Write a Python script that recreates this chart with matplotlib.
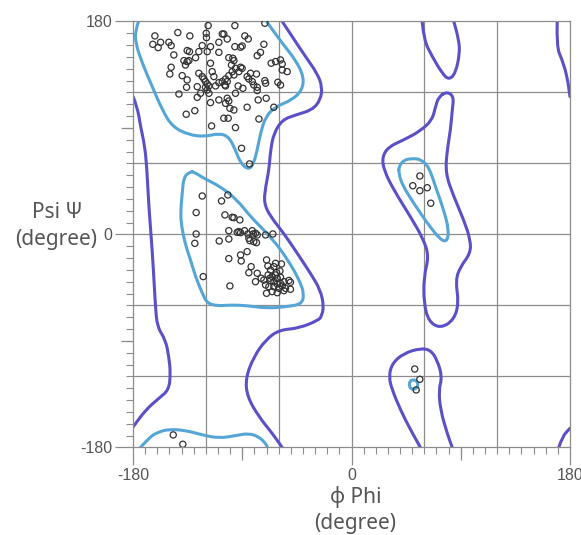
import numpy as np
import matplotlib
matplotlib.use('Agg')
import matplotlib.pyplot as plt
from matplotlib.path import Path
from matplotlib.patches import PathPatch

# ---- residue dihedral angles (degrees) ----
beta_phi = [-118.1, -96.1, -71.4, -143.1, -133.2, -119.7, -106.5, -105.2, -87.9, -85.1,
            -162.0, -157.3, -163.7, -159.3, -150.5, -148.6, -119.5, -123.0, -116.2, -109.3,
            -102.4, -90.1, -91.4, -96.1, -72.2, -146.4, -135.4, -133.5, -125.8, -118.9,
            -109.3, -75.0, -77.7, -138.1, -135.4, -136.8, -134.0, -128.5, -116.2, -101.1,
            -97.8, -96.9, -98.9, -91.4, -66.2, -62.6, -58.5, -57.1, -53.0, -57.1,
            -148.6, -149.7, -139.5, -135.4, -125.8, -123.0, -121.6, -120.3, -118.9, -113.4,
            -114.8, -103.8, -102.4, -106.5, -104.3, -109.3, -98.3, -96.9, -95.6, -92.8,
            -90.1, -101.1, -86.0, -83.2, -78.3, -84.6, -81.8, -80.5, -77.7, -71.4,
            -70.8, -60.7, -58.5, -135.9, -127.1, -117.5, -118.9, -120.3, -112.0, -103.8,
            -93.4, -89.5, -142.2, -127.1, -124.4, -117.5, -77.7, -76.9, -70.3, -116.2,
            -109.3, -102.4, -101.1, -103.8, -95.6, -86.0, -100.2, -96.9, -64.0, -136.2,
            -129.1, -105.2, -101.6, -76.3, -115.3, -95.6, -90.6, -84.0]
beta_psi = [176.5, 176.5, 178.5, 170.6, 167.8, 170.0, 169.4, 169.4, 167.8, 165.2,
            167.8, 162.4, 160.7, 157.9, 162.4, 159.6, 166.3, 159.6, 158.7, 162.4,
            165.2, 159.3, 158.2, 158.7, 160.7, 151.7, 155.4, 154.5, 154.5, 154.5,
            153.9, 153.9, 151.1, 146.9, 146.1, 143.2, 146.9, 149.4, 144.7, 149.4,
            148.9, 146.9, 143.2, 141.3, 144.7, 146.1, 147.5, 144.1, 137.6, 139.0,
            141.3, 135.6, 134.2, 130.6, 136.2, 133.4, 131.4, 129.2, 127.2, 133.4,
            137.6, 131.4, 129.2, 129.2, 126.3, 128.3, 137.6, 134.8, 140.4, 137.6,
            140.4, 134.2, 133.4, 136.2, 135.6, 131.4, 129.2, 126.3, 124.4, 130.0,
            127.8, 128.6, 126.3, 124.4, 124.9, 125.5, 122.1, 124.4, 125.5, 125.5,
            125.5, 123.5, 118.7, 115.9, 119.3, 119.3, 121.6, 113.7, 115.1, 111.4,
            113.7, 115.1, 112.8, 110.8, 119.3, 107.5, 106.6, 105.2, 107.5, 101.6,
            104.6, 98.2, 98.2, 97.6, 91.7, 90.3, 72.8, 59.6]

alpha_phi = [-123.0, -107.1, -101.9, -128.0, -104.3, -98.3, -96.9, -92.0, -128.0, -129.1,
             -101.1, -101.1, -109.0, -94.2, -92.8, -91.4, -88.1, -85.4, -81.8, -81.0,
             -79.1, -77.7, -84.6, -83.8, -80.5, -78.3, -70.8, -64.8, -86.0, -91.4,
             -90.9, -101.1, -122.2, -100.2, -82.7, -84.6, -77.7, -74.4, -79.1, -70.0,
             -68.9, -64.0, -62.6, -57.7, -66.7, -59.0, -68.7, -65.4, -62.6, -61.2,
             -58.5, -66.7, -64.0, -61.2, -58.5, -55.7, -51.6, -50.3, -70.8, -68.1,
             -64.0, -59.9, -57.1, -54.4, -50.3, -70.0, -65.4, -61.2, -55.7, -61.8,
             -67.3, -72.2]
alpha_psi = [32.5, 28.3, 33.4, 18.5, 16.5, 14.5, 14.2, 12.3, 0.4, -7.5,
             3.2, -3.8, -5.5, 1.8, 2.4, 1.5, 3.2, 0.4, 3.2, 0.4,
             1.0, -0.4, -3.2, -5.2, -6.1, -6.9, -0.4, 0.4, -14.5, -17.3,
             -22.4, -20.4, -35.6, -43.5, -27.2, -32.3, -32.8, -37.0, -39.9, -21.5,
             -26.6, -27.2, -24.4, -24.9, -30.0, -30.8, -34.2, -35.6, -34.2, -37.0,
             -36.2, -38.9, -39.9, -41.8, -41.3, -39.9, -38.9, -40.4, -42.7, -44.1,
             -44.1, -45.5, -43.5, -45.5, -46.3, -49.7, -48.3, -49.2, -47.5, -32.3,
             -37.0, -38.5]

other_phi = [-146.9, -139.0, 56.3, 50.5, 56.3, 62.4, 65.3, 52.1, 56.3, 53.3]
other_psi = [-169.4, -177.3, 49.4, 41.2, 37.0, 39.5, 26.4, -113.7, -122.4, -131.4]

# ---- allowed region contours (outer, dark) ----
outer_left_phi = [-180, -176.5, -173.8, -170.5, -168.7, -167.0, -164.2, -162.3, -161.5, -160.1,
                  -153.2, -150.5, -149.1, -150.5, -158.7, -169.7, -180]
outer_left_psi = [116.5, 108.0, 91.1, 75.6, 57.3, 23.5, -13.1, -46.9, -61.0, -77.9,
                  -89.2, -103.3, -117.3, -131.4, -138.4, -148.3, -162.7]
outer_tr_phi = [169.5, 168.9, 173.6, 177.7, 180]
outer_tr_psi = [180, 158.7, 147.5, 133.4, 116.5]
outer_br_phi = [170.8, 173.6, 180]
outer_br_psi = [-180, -170.9, -163.8]
outer_mid_phi = [-57.1, -48.9, -37.9, -28.3, -24.1, -25.5, -32.4, -46.1, -57.1, -64.0,
                 -66.7, -68.0, -70.8, -72.2, -66.7, -55.8, -44.7, -33.8, -25.5, -22.8,
                 -24.7, -26.9, -43.4, -59.9, -70.8, -80.5, -87.3, -85.9, -76.4, -65.3, -57.1]
outer_mid_psi = [180, 167.2, 150.3, 136.2, 124.9, 113.7, 105.2, 101.0, 96.8, 85.5,
                 71.4, 54.5, 40.4, 26.4, 15.0, 1.0, -15.9, -32.8, -47.1, -61.0,
                 -68.9, -72.3, -79.3, -80.7, -89.2, -103.3, -121.5, -137.1, -154.0, -168.0, -180]
outer_rt_phi = [58.2, 59.6, 66.5, 74.7, 80.2, 85.7, 89.2, 88.4, 84.3]
outer_rt_psi = [180, 164.4, 150.3, 136.2, 130.6, 136.2, 153.1, 164.4, 180]
outer_rb_phi = [56.8, 48.6, 40.4, 33.5, 30.7, 33.5, 43.1, 56.8, 65.1, 70.6,
                74.7, 71.9, 73.3, 78.8, 83.0]
outer_rb_psi = [-180, -165.2, -148.3, -131.4, -120.2, -108.9, -100.4, -96.2, -97.6, -106.1,
                -120.2, -131.4, -148.3, -168.0, -180]
outer_rm_phi = [78.8, 84.3, 83.0, 81.6, 78.8, 77.4, 84.3, 92.5, 98.0, 98.0,
                89.8, 85.7, 88.4, 84.3, 73.3, 63.7, 59.6, 59.6, 63.7, 59.6,
                48.6, 34.8, 26.6, 25.3, 30.7, 43.1, 56.8, 66.5, 69.2, 71.9, 78.8]
outer_rm_psi = [120.7, 116.5, 105.2, 88.3, 71.4, 51.7, 31.9, 12.3, -4.6, -15.9,
                -27.2, -38.5, -58.1, -72.3, -79.3, -73.7, -58.1, -35.7, -18.8, -4.6,
                15.0, 37.6, 54.5, 65.7, 74.2, 79.9, 87.5, 96.8, 108.0, 116.5, 120.7]

# ---- favoured region contours (core, light) ----
core_beta_phi = [-175.5, -178.0, -178.0, -172.4, -164.2, -155.9, -147.7, -134.0, -120.3, -109.3,
                 -101.1, -95.6, -91.4, -84.6, -80.5, -77.7, -75.0, -70.8, -62.6, -48.9,
                 -40.6, -39.3, -46.1, -57.1, -70.0]
core_beta_psi = [180, 172.8, 161.6, 144.7, 124.9, 105.2, 91.1, 84.1, 82.7, 85.5,
                 82.7, 71.4, 60.2, 54.5, 60.2, 71.4, 85.5, 99.6, 108.0, 113.7,
                 122.1, 133.4, 147.5, 161.6, 180]
core_bot_phi = [-173.8, -166.4, -159.0, -150.5, -136.8, -123.0, -109.3, -95.6, -84.6, -76.4, -70.8, -69.2]
core_bot_psi = [-180, -171.1, -166.9, -164.6, -165.5, -169.4, -172.2, -170.0, -168.0, -170.9, -176.5, -180]
core_alpha_phi = [-132.6, -138.2, -139.5, -140.9, -140.0, -136.8, -132.6, -128.5, -123.0, -118.9,
                  -110.6, -99.7, -87.3, -69.4, -53.0, -40.6, -39.3, -42.0, -47.5, -54.4,
                  -61.2, -72.2, -83.2, -94.2, -107.9, -121.7, -129.9, -132.6]
core_alpha_psi = [53.1, 48.8, 34.8, 17.9, 6.6, -8.9, -21.6, -35.7, -49.7, -58.1,
                  -60.4, -59.6, -60.0, -62.4, -61.0, -58.7, -49.7, -41.2, -30.0, -18.8,
                  -8.9, 3.8, 15.0, 29.2, 40.4, 47.5, 52.8, 53.1]
core_left_phi = [39.0, 43.1, 50.3, 56.8, 63.7, 69.2, 76.0, 80.2, 78.8, 73.3,
                 62.4, 51.3, 41.8, 39.0, 39.0]
core_left_psi = [57.3, 63.0, 64.2, 63.6, 57.3, 40.4, 20.7, 3.8, -6.1, -4.6,
                 9.5, 26.4, 41.8, 51.7, 57.3]
core_small_phi = [48.0, 51.0, 54.0, 55.0, 53.0, 49.5, 47.5, 48.0]
core_small_psi = [-124.0, -122.5, -124.0, -127.5, -130.5, -131.0, -128.0, -124.0]

OUTER = '#5b50c8'
CORE = '#55a6d6'
GRID = '#8c8c8c'
TXT = '#555555'


###############################################################################
def smooth_path(x, y):
    # quadratic bezier through segment midpoints, keeps the curve round
    pts = np.column_stack([x, y]).astype(float)
    closed = np.allclose(pts[0], pts[-1])
    if closed:
        pts = pts[:-1]
        mids = (pts + np.roll(pts, -1, axis=0)) / 2
        verts = [mids[-1]]
        codes = [Path.MOVETO]
        for i in range(len(pts)):
            verts += [pts[i], mids[i]]
            codes += [Path.CURVE3, Path.CURVE3]
    else:
        verts = [pts[0]]
        codes = [Path.MOVETO]
        for i in range(1, len(pts) - 1):
            verts += [pts[i], (pts[i] + pts[i + 1]) / 2]
            codes += [Path.CURVE3, Path.CURVE3]
        verts.append(pts[-1])
        codes.append(Path.LINETO)
    return Path(verts, codes)


fig = plt.figure(figsize=(5.81, 5.35), dpi=100)
ax = fig.add_axes([0.229, 0.1636, 0.752, 0.7963])
ax.set_xlim(-180, 180)
ax.set_ylim(-180, 180)

for v in (-120, -60, 0, 60, 120):
    ax.axvline(v, color=GRID, lw=0.9, zorder=0)
    ax.axhline(v, color=GRID, lw=0.9, zorder=0)
for s in ax.spines.values():
    s.set_color(GRID)
    s.set_linewidth(0.9)

outer = [(outer_left_phi, outer_left_psi), (outer_tr_phi, outer_tr_psi),
         (outer_br_phi, outer_br_psi), (outer_mid_phi, outer_mid_psi),
         (outer_rt_phi, outer_rt_psi), (outer_rb_phi, outer_rb_psi),
         (outer_rm_phi, outer_rm_psi)]
core = [(core_beta_phi, core_beta_psi), (core_bot_phi, core_bot_psi),
        (core_alpha_phi, core_alpha_psi), (core_left_phi, core_left_psi),
        (core_small_phi, core_small_psi)]
for x, y in outer:
    ax.add_patch(PathPatch(smooth_path(x, y), fill=False, edgecolor=OUTER, lw=2.2,
                           joinstyle='round', capstyle='round', zorder=2))
for x, y in core:
    ax.add_patch(PathPatch(smooth_path(x, y), fill=False, edgecolor=CORE, lw=2.2,
                           joinstyle='round', capstyle='round', zorder=2))

ax.scatter(beta_phi + alpha_phi + other_phi, beta_psi + alpha_psi + other_psi,
           s=20, facecolors='none', edgecolors='#333333', linewidths=0.9, zorder=3)

ax.set_xticks([-180, 0, 180])
ax.set_yticks([-180, 0, 180])
ax.set_xticklabels(['-180', '0', '180'])
ax.set_yticklabels(['-180', '0', '180'])
ax.set_xticks(np.arange(-180, 181, 10), minor=True)
ax.set_yticks(np.arange(-180, 181, 10), minor=True)
ax.tick_params(which='major', length=13, width=0.9, color=GRID, labelsize=11.5,
               labelcolor=TXT, pad=2)
ax.tick_params(which='minor', length=5, width=0.8, color=GRID)
for lab in ax.get_xticklabels() + ax.get_yticklabels():
    lab.set_family('Liberation Sans')

secx = ax.secondary_xaxis('bottom')
secy = ax.secondary_yaxis('left')
for sec in (secx, secy):
    sec.tick_params(length=9, width=0.9, color=GRID, labelsize=0)
    for s in sec.spines.values():
        s.set_visible(False)
secx.set_xticks([-90, 90], ['', ''])
secy.set_yticks([-90, 90], ['', ''])

lab_kw = dict(ha='center', va='center', fontsize=15, color=TXT, family='Noto Sans')
fig.text(57 / 581, 1 - 213 / 535, 'Psi \u03a8', **lab_kw)
fig.text(56 / 581, 1 - 239 / 535, '(degree)', **lab_kw)
fig.text(356 / 581, 1 - 497 / 535, '\u03c6 Phi', **lab_kw)
fig.text(355 / 581, 1 - 523 / 535, '(degree)', **lab_kw)

fig.savefig('out.png', dpi=100)
